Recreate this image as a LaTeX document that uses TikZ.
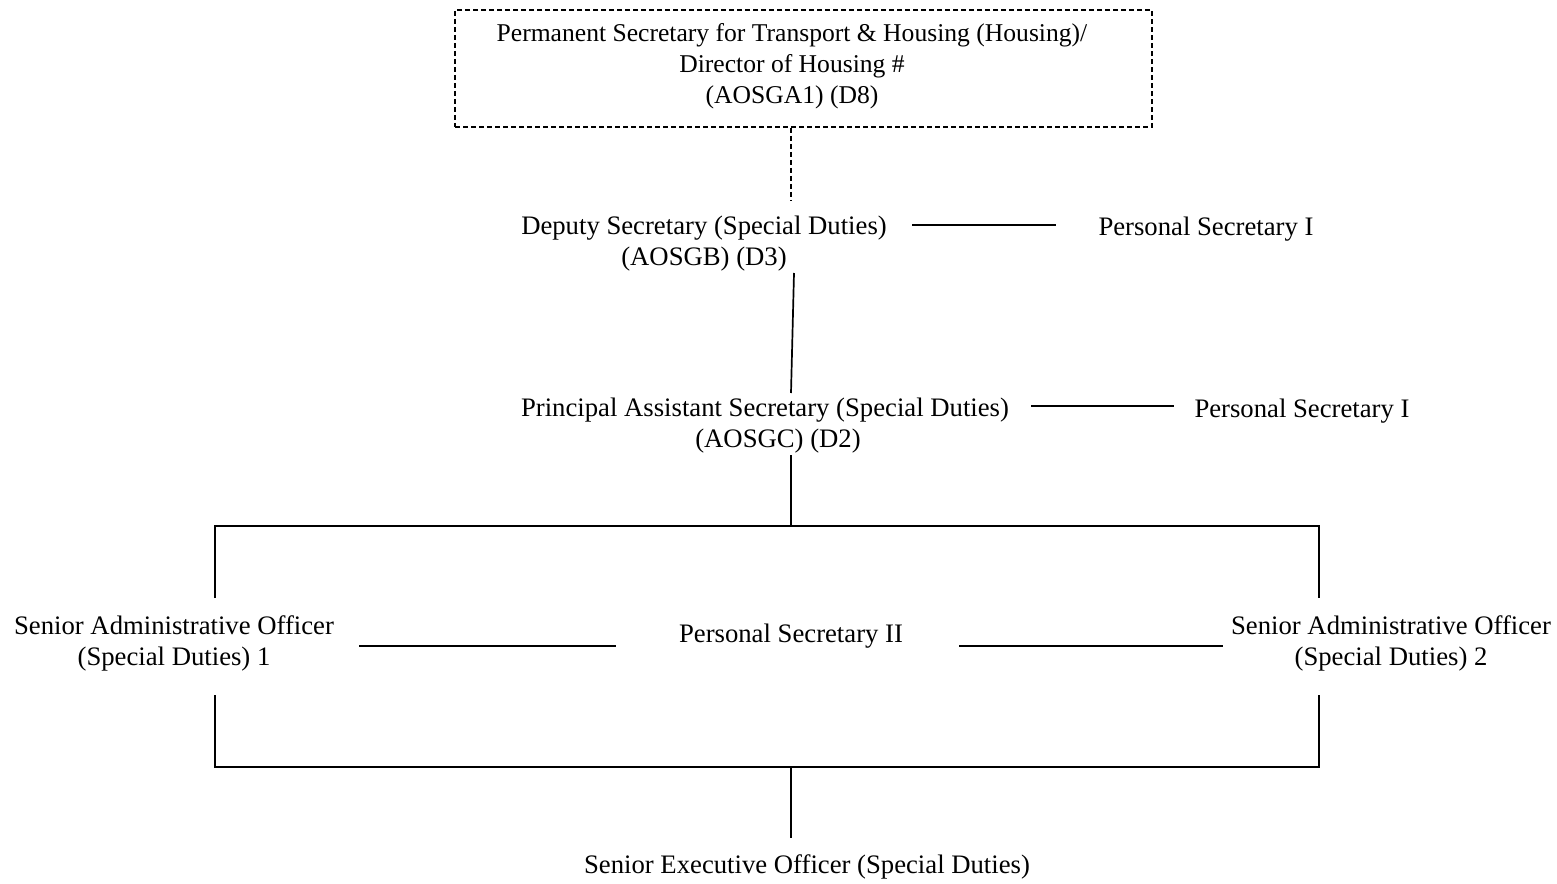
\documentclass[tikz,border=0pt]{standalone}
\usepackage{fontspec}
\setmainfont{Liberation Serif}
\begin{document}
\begin{tikzpicture}[x=1pt,y=-1pt,
  lbl/.style={inner sep=0pt,align=center,font=\fontsize{26.7}{31}\selectfont},
  toplbl/.style={inner sep=0pt,align=center,font=\fontsize{25.6}{31}\selectfont},
  conn/.style={line width=1.7pt},
  dconn/.style={line width=1.6pt,dash pattern=on 5pt off 3pt}]
\useasboundingbox (0,0) rectangle (1557,883);
% top box
\node[dconn,draw,minimum width=697pt,minimum height=117pt,inner sep=0pt] (topbox) at (803.5,68.5) {};
\node[toplbl] (toptext) at (792,66) {Permanent Secretary for Transport \& Housing (Housing)/\\Director of Housing \#\\(AOSGA1) (D8)};
% nodes
\node[lbl] (ds) at (704,244) {Deputy Secretary (Special Duties)\\(AOSGB) (D3)};
\node[lbl] (ps1) at (1206,229) {Personal Secretary I};
\node[lbl] (pas) at (765,426) {Principal Assistant Secretary (Special Duties)\\\hspace*{26pt}(AOSGC) (D2)};
\node[lbl] (ps2) at (1302,411) {Personal Secretary I};
\node[lbl] (sao1) at (174,643) {Senior Administrative Officer\\(Special Duties) 1};
\node[lbl] (psii) at (791,636) {Personal Secretary II};
\node[lbl] (sao2) at (1391,643) {Senior Administrative Officer\\(Special Duties) 2};
\node[lbl] (seo) at (807,867) {Senior Executive Officer (Special Duties)};
% coordinates
\coordinate (a1) at (791,200);
\coordinate (b1) at (912,225); \coordinate (b2) at (1056,225);
\coordinate (c1) at (794,273); \coordinate (c2) at (791,393);
\coordinate (d1) at (1031,406); \coordinate (d2) at (1174,406);
\coordinate (e1) at (791,455); \coordinate (e2) at (791,526);
\coordinate (fL) at (215,526); \coordinate (fR) at (1319,526);
\coordinate (gL) at (215,598); \coordinate (gR) at (1319,598);
\coordinate (h1) at (359,646); \coordinate (h2) at (616,646);
\coordinate (h3) at (959,646); \coordinate (h4) at (1223,646);
\coordinate (iL) at (215,695); \coordinate (iR) at (1319,695);
\coordinate (jL) at (215,767); \coordinate (jR) at (1319,767);
\coordinate (j1) at (791,767); \coordinate (k1) at (791,838);
% connectors
\draw[dconn] (topbox.south -| a1) -- (a1);
\draw[conn] (b1) -- (b2);
\draw[conn] (c1) -- (c2);
\draw[conn] (d1) -- (d2);
\draw[conn] (e1) -- (e2);
\draw[conn] (gL) -- (fL) -- (fR) -- (gR);
\draw[conn] (h1) -- (h2);
\draw[conn] (h3) -- (h4);
\draw[conn] (iL) -- (jL) -- (jR) -- (iR);
\draw[conn] (j1) -- (k1);
\end{tikzpicture}
\end{document}
